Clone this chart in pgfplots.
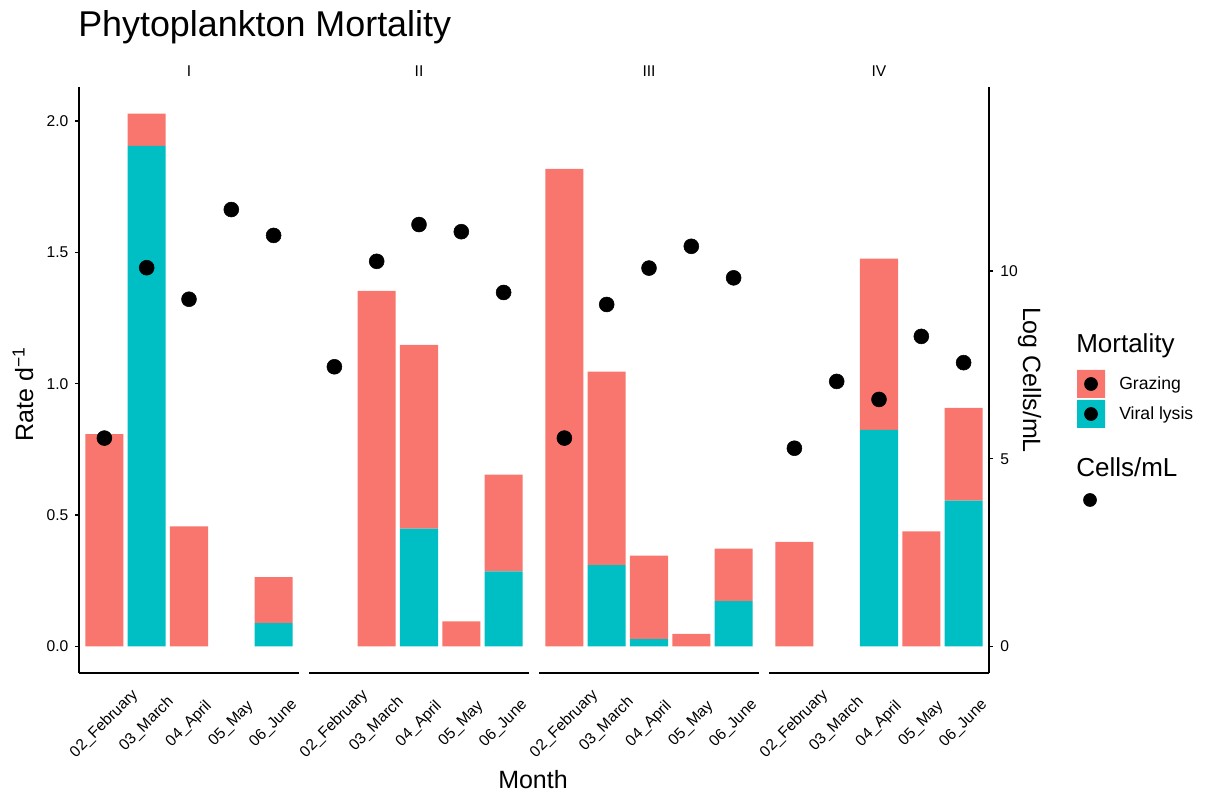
\documentclass[border=0pt]{standalone}
\usepackage{fontspec}
\setmainfont{Liberation Sans}
\usepackage{pgfplots}
\usepackage{pgfplotstable}
\pgfplotsset{compat=1.18}

\definecolor{grazing}{HTML}{F8766D}
\definecolor{viral}{HTML}{00BFC4}

% i = month index, v = viral lysis rate, g = grazing rate, c = log cells/mL
\pgfplotstableread{
i v     g     c
0 0     0.808 5.55
1 1.905 0.123 10.09
2 0     0.457 9.25
3 0     0     11.64
4 0.088 0.176 10.95
}\panelI
\pgfplotstableread{
i v     g     c
0 0     0     7.45
1 0     1.353 10.26
2 0.448 0.700 11.24
3 0     0.095 11.05
4 0.285 0.369 9.43
}\panelII
\pgfplotstableread{
i v     g     c
0 0     1.818 5.55
1 0.309 0.737 9.11
2 0.028 0.317 10.08
3 0     0.048 10.66
4 0.172 0.200 9.82
}\panelIII
\pgfplotstableread{
i v     g     c
0 0     0.398 5.28
1 0     0     7.06
2 0.824 0.652 6.58
3 0     0.438 8.26
4 0.555 0.353 7.56
}\panelIV

\newcommand{\ticksize}{\fontsize{11.7}{14}\selectfont}
\newcommand{\titlesize}{\fontsize{18.75}{22}\selectfont}

\pgfplotsset{
  facetpanel/.style={scale only axis, width=165pt, height=439.5pt,
    xmin=-0.6, xmax=4.6, clip=false, anchor=south west,
    /pgf/number format/assume math mode=true,
    axis line style={-, line width=1.1pt, black},
    tick align=outside, major tick length=3pt,
    tick style={line width=1.1pt, black},
    every axis title/.style={at={(0.5,1)}, anchor=base, yshift=7.5pt,
      inner sep=0pt, font=\ticksize}},
  rateaxis/.style={facetpanel, ymin=-0.1014, ymax=2.1294,
    ybar stacked, bar width=0.9,
    axis x line*=bottom,
    xtick={0,...,4},
    xticklabels={02\_February,03\_March,04\_April,05\_May,06\_June},
    x tick style={draw=none},
    xticklabel style={font=\ticksize, yshift=-35.25pt, rotate=45, anchor=center},
    yticklabel style={font=\ticksize, xshift=-1.5pt, /pgf/number format/fixed,
      /pgf/number format/fixed zerofill, /pgf/number format/precision=1}},
  noyaxis/.style={axis y line=none, ytick=\empty},
  logaxis/.style={facetpanel, ymin=-0.7098, ymax=14.9058},
  mortbar/.style={fill=#1, draw=none},
  celldot/.style={only marks, mark=*, mark size=5.6pt, black},
}

\begin{document}
\begin{tikzpicture}
\useasboundingbox (0,0) rectangle (904.5pt,597pt);

% Panel I
\begin{axis}[rateaxis, at={(59.25pt,92.25pt)}, title=I, axis y line*=left,
  ytick={0,0.5,1,1.5,2}]
  \addplot[mortbar=viral] table[x=i, y=v] {\panelI};
  \addplot[mortbar=grazing] table[x=i, y=g] {\panelI};
\end{axis}
\begin{axis}[logaxis, at={(59.25pt,92.25pt)}, hide axis]
  \addplot[celldot] table[x=i, y=c] {\panelI};
\end{axis}

% Panel II
\begin{axis}[rateaxis, noyaxis, at={(231.75pt,92.25pt)}, title=II]
  \addplot[mortbar=viral] table[x=i, y=v] {\panelII};
  \addplot[mortbar=grazing] table[x=i, y=g] {\panelII};
\end{axis}
\begin{axis}[logaxis, at={(231.75pt,92.25pt)}, hide axis]
  \addplot[celldot] table[x=i, y=c] {\panelII};
\end{axis}

% Panel III
\begin{axis}[rateaxis, noyaxis, at={(404.25pt,92.25pt)}, title=III]
  \addplot[mortbar=viral] table[x=i, y=v] {\panelIII};
  \addplot[mortbar=grazing] table[x=i, y=g] {\panelIII};
\end{axis}
\begin{axis}[logaxis, at={(404.25pt,92.25pt)}, hide axis]
  \addplot[celldot] table[x=i, y=c] {\panelIII};
\end{axis}

% Panel IV, with the secondary axis for log cells/mL
\begin{axis}[rateaxis, noyaxis, at={(576.75pt,92.25pt)}, title=IV]
  \addplot[mortbar=viral] table[x=i, y=v] {\panelIV};
  \addplot[mortbar=grazing] table[x=i, y=g] {\panelIV};
\end{axis}
\begin{axis}[logaxis, at={(576.75pt,92.25pt)}, axis x line=none, axis y line*=right,
  xtick=\empty, ytick={0,5,10},
  yticklabel style={font=\ticksize, anchor=west, xshift=2pt}]
  \addplot[celldot] table[x=i, y=c] {\panelIV};
\end{axis}

% Legend (local frame in px, origin at its lower left corner)
\begin{axis}[at={(802.5pt,207pt)}, anchor=south west, scale only axis,
  width=97.5pt, height=150pt, xmin=0, xmax=130, ymin=0, ymax=200,
  hide axis, clip=false]
  \addplot[fill=grazing, draw=none] coordinates
    {(7,122) (35,122) (35,150) (7,150) (7,122)};
  \addplot[fill=viral, draw=none] coordinates
    {(7,92) (35,92) (35,120) (7,120) (7,92)};
  \addplot[only marks, mark=*, mark size=4.9pt, black] coordinates
    {(21,136) (21,106) (20,20)};
  \node[anchor=base west, inner sep=0pt, font=\fontsize{19.5}{23}\selectfont]
    at (axis cs:6,167) {Mortality};
  \node[anchor=base west, inner sep=0pt, font=\fontsize{13.2}{16}\selectfont]
    at (axis cs:49,130) {Grazing};
  \node[anchor=base west, inner sep=0pt, font=\fontsize{13.2}{16}\selectfont]
    at (axis cs:49,100) {Viral lysis};
  \node[anchor=base west, inner sep=0pt, font=\fontsize{19.5}{23}\selectfont]
    at (axis cs:6,43) {Cells/mL};
\end{axis}

% Titles
\node[anchor=base west, inner sep=0pt, font=\fontsize{26.9}{31}\selectfont]
  at (58.5pt,569.25pt) {Phytoplankton Mortality};
\node[rotate=90, anchor=base, inner sep=0pt, font=\titlesize]
  at (24.75pt,301.5pt) {Rate d\textsuperscript{−1}};
\node[rotate=-90, anchor=base, inner sep=0pt, font=\titlesize]
  at (767.25pt,312pt) {Log Cells/mL};
\node[anchor=base, inner sep=0pt, font=\titlesize] at (399.75pt,6pt) {Month};
\end{tikzpicture}
\end{document}
